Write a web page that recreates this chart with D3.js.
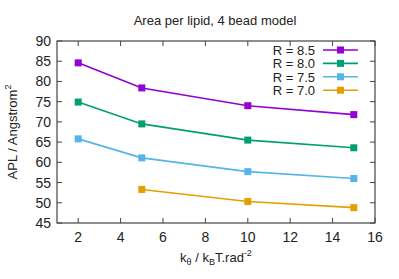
<!DOCTYPE html>
<html>
<head>
<meta charset="utf-8">
<script src="https://cdn.jsdelivr.net/npm/d3@7"></script>
<style>
body { margin: 0; background: #fff; }
text { font-family: "Liberation Sans", Arial, sans-serif; }
</style>
</head>
<body>
<div id="chart"></div>
<script>
const kTheta = [2, 5, 10, 15]
const seriesNames = ["R = 8.5", "R = 8.0", "R = 7.5", "R = 7.0"]
const seriesColors = ["#9400d3", "#009e73", "#56b4e9", "#e69f00"]
const apl85 = [84.6, 78.4, 74.0, 71.8]
const apl80 = [74.9, 69.5, 65.5, 63.6]
const apl75 = [65.8, 61.1, 57.7, 56.0]
const apl70 = [null, 53.3, 50.3, 48.8]
const xTicks = [2, 4, 6, 8, 10, 12, 14, 16]
const yTicks = [45, 50, 55, 60, 65, 70, 75, 80, 85, 90]

let width = 399, height = 279
let margin = { left: 57, right: 24, top: 41, bottom: 56 }
let svg = d3.select("#chart").append("svg")
    .attr("width", width)
    .attr("height", height)

let x = d3.scaleLinear().domain([1, 16]).range([margin.left, width - margin.right])
let y = d3.scaleLinear().domain([45, 90]).range([height - margin.bottom, margin.top])

let series = [apl85, apl80, apl75, apl70].map((vals, i) => ({
    name: seriesNames[i],
    color: seriesColors[i],
    points: kTheta.map((k, j) => ({ k: k, v: vals[j] })).filter(d => d.v != null)
}))

// ticks, inward, mirrored
let tickLen = 5
let axisColor = "#444"
let g = svg.append("g")
xTicks.forEach(t => {
    g.append("line").attr("x1", x(t)).attr("x2", x(t))
        .attr("y1", y(45)).attr("y2", y(45) - tickLen).attr("stroke", axisColor)
    g.append("line").attr("x1", x(t)).attr("x2", x(t))
        .attr("y1", y(90)).attr("y2", y(90) + tickLen).attr("stroke", axisColor)
    g.append("text").attr("x", x(t)).attr("y", y(45) + 19)
        .attr("text-anchor", "middle").attr("font-size", 14).attr("fill", "#222")
        .text(t)
})
yTicks.forEach(t => {
    g.append("line").attr("x1", x(1)).attr("x2", x(1) + tickLen)
        .attr("y1", y(t)).attr("y2", y(t)).attr("stroke", axisColor)
    g.append("line").attr("x1", x(16)).attr("x2", x(16) - tickLen)
        .attr("y1", y(t)).attr("y2", y(t)).attr("stroke", axisColor)
    g.append("text").attr("x", x(1) - 6).attr("y", y(t) + 5)
        .attr("text-anchor", "end").attr("font-size", 14).attr("fill", "#222")
        .text(t)
})
svg.append("rect")
    .attr("x", x(1)).attr("y", y(90))
    .attr("width", x(16) - x(1)).attr("height", y(45) - y(90))
    .attr("fill", "none").attr("stroke", axisColor).attr("stroke-width", 1.2)

// lines
let line = d3.line().x(d => x(d.k)).y(d => y(d.v))
series.forEach(s => {
    svg.append("path")
        .datum(s.points)
        .attr("fill", "none")
        .attr("stroke", s.color)
        .attr("stroke-width", 1.6)
        .attr("d", line)
    svg.selectAll(null)
        .data(s.points)
        .enter()
        .append("rect")
        .attr("x", d => x(d.k) - 3.5)
        .attr("y", d => y(d.v) - 3.5)
        .attr("width", 7).attr("height", 7)
        .attr("fill", s.color)
})

// legend
series.forEach((s, i) => {
    let ly = 50 + i * 13.4
    svg.append("text").attr("x", 315).attr("y", ly + 5)
        .attr("text-anchor", "end").attr("font-size", 13).attr("fill", "#222")
        .text(s.name)
    svg.append("line").attr("x1", 323).attr("x2", 358)
        .attr("y1", ly).attr("y2", ly)
        .attr("stroke", s.color).attr("stroke-width", 1.6)
    svg.append("rect").attr("x", 340.5 - 3.5).attr("y", ly - 3.5)
        .attr("width", 7).attr("height", 7).attr("fill", s.color)
})

// title and axis labels
svg.append("text").attr("x", 215).attr("y", 25)
    .attr("text-anchor", "middle").attr("font-size", 13).attr("fill", "#222")
    .text("Area per lipid, 4 bead model")

let xl = svg.append("text").attr("x", 216).attr("y", 262)
    .attr("text-anchor", "middle").attr("font-size", 13).attr("fill", "#222")
xl.append("tspan").text("k")
xl.append("tspan").attr("font-size", 9).attr("dy", 3).text("θ")
xl.append("tspan").attr("dy", -3).text(" / k")
xl.append("tspan").attr("font-size", 9).attr("dy", 3).text("B")
xl.append("tspan").attr("dy", -3).text("T.rad")
xl.append("tspan").attr("font-size", 9).attr("dy", -6).text("-2")

let yl = svg.append("text")
    .attr("transform", `translate(17,${(y(45) + y(90)) / 2}) rotate(-90)`)
    .attr("text-anchor", "middle").attr("font-size", 13).attr("fill", "#222")
yl.append("tspan").text("APL / Angstrom")
yl.append("tspan").attr("font-size", 9).attr("dy", -6).text("2")
</script>
</body>
</html>
